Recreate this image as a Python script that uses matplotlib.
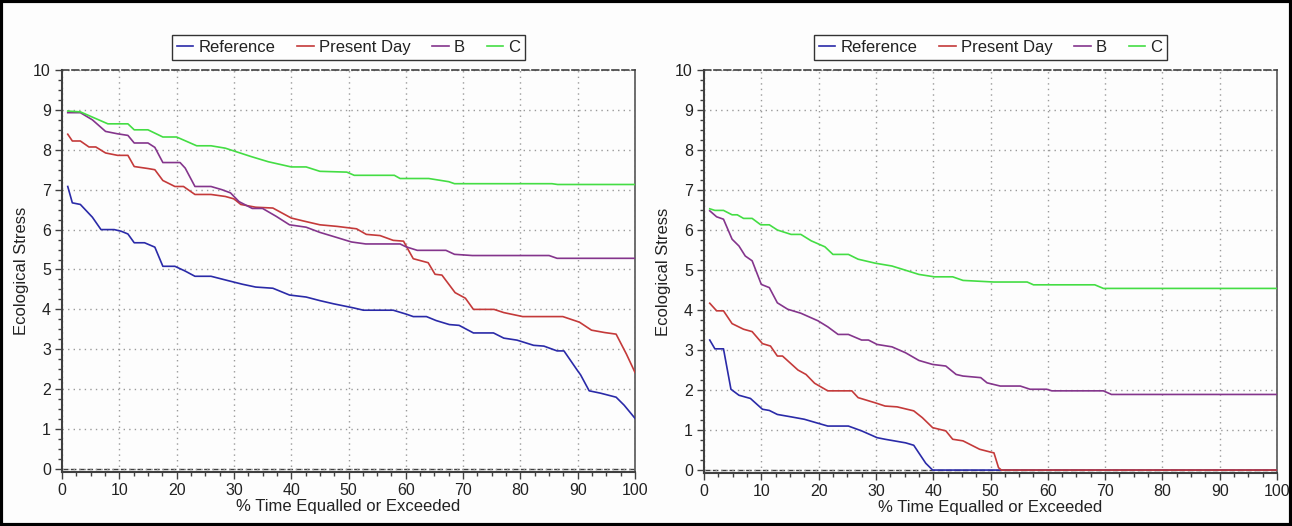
import matplotlib
matplotlib.use("Agg")
import matplotlib.pyplot as plt
from matplotlib.ticker import MultipleLocator
from matplotlib.patches import Rectangle

plt.rcParams['font.family'] = ['Liberation Sans', 'DejaVu Sans']

# ---------------- data ----------------
series_names = ["Reference", "Present Day", "B", "C"]
series_colors = ["#2a2aa8", "#c43a3a", "#84358c", "#44dd44"]

# Left panel
L_ref_x = [1, 1.8, 3.2, 5.3, 6.8, 9.1, 10.3, 11.5, 12.6, 14.4, 16.2, 17.6, 19.7, 21.5, 23.2, 26, 29, 31.5, 33.8,
           36.8, 39.7, 42.6, 45, 47.4, 50.8, 52.6, 57.8, 60.1, 61.3, 63.6, 65.3, 67.6, 69.3, 71.8, 75.3, 77.1,
           79.4, 82.3, 84.1, 86.4, 87.6, 89.9, 90.5, 92, 94, 96.7, 98.1, 100]
L_ref_y = [7.08, 6.67, 6.63, 6.31, 6.0, 6.0, 5.96, 5.89, 5.67, 5.67, 5.56, 5.08, 5.08, 4.96, 4.83, 4.83, 4.72, 4.63,
           4.56, 4.53, 4.36, 4.31, 4.22, 4.14, 4.04, 3.98, 3.98, 3.88, 3.82, 3.82, 3.72, 3.62, 3.6, 3.41, 3.41,
           3.28, 3.23, 3.1, 3.08, 2.96, 2.96, 2.48, 2.36, 1.96, 1.9, 1.8, 1.6, 1.27]

L_pd_x = [1, 1.8, 3.2, 4.7, 5.9, 7.6, 9.7, 11.5, 12.6, 15, 16.2, 17.6, 19.7, 21.2, 23.2, 26, 28.5, 30, 31.2, 33.8,
          36.8, 40, 42, 45, 48, 51.4, 53.1, 55.5, 57.8, 59.6, 60.4, 61.3, 63.9, 65.1, 66.3, 68.6, 70.4, 71.8,
          75.4, 77.1, 80.4, 87.4, 90.3, 92.4, 94.7, 96.7, 98.5, 100]
L_pd_y = [8.39, 8.22, 8.22, 8.07, 8.07, 7.92, 7.86, 7.86, 7.58, 7.53, 7.5, 7.23, 7.08, 7.08, 6.88, 6.88, 6.83, 6.77,
          6.63, 6.56, 6.54, 6.29, 6.22, 6.12, 6.08, 6.02, 5.88, 5.85, 5.73, 5.71, 5.5, 5.27, 5.17, 4.88, 4.86,
          4.42, 4.28, 4.0, 4.0, 3.92, 3.82, 3.82, 3.68, 3.48, 3.42, 3.38, 2.88, 2.42]

L_b_x = [1, 3.2, 5.3, 7.6, 9.7, 11.5, 12.6, 15, 16.2, 17.6, 20.6, 21.5, 23.2, 26, 27.9, 29.4, 30.9, 33.2, 35, 37.4,
         39.7, 42.6, 45, 48, 50.5, 53, 59, 60, 62, 67, 68.5, 71.6, 85, 86.4, 100]
L_b_y = [8.93, 8.93, 8.75, 8.46, 8.4, 8.36, 8.17, 8.17, 8.06, 7.68, 7.68, 7.54, 7.08, 7.08, 7.0, 6.92, 6.7, 6.53,
         6.53, 6.33, 6.12, 6.06, 5.93, 5.8, 5.69, 5.64, 5.64, 5.57, 5.48, 5.48, 5.38, 5.35, 5.35, 5.28, 5.28]

L_c_x = [1, 3.2, 8, 11.5, 12.6, 15, 17.6, 20, 23.5, 26, 28.5, 33, 36, 40, 42.6, 45, 49.7, 51, 58, 59, 64, 67.5,
         68.5, 85.5, 86.5, 100]
L_c_y = [8.97, 8.95, 8.65, 8.65, 8.5, 8.5, 8.32, 8.32, 8.1, 8.1, 8.04, 7.83, 7.7, 7.57, 7.57, 7.46, 7.44, 7.36,
         7.36, 7.28, 7.28, 7.2, 7.15, 7.15, 7.13, 7.13]

# Right panel
R_ref_x = [1, 1.9, 3.4, 4.7, 6.1, 8.1, 10.2, 11.4, 12.8, 15.2, 17.5, 19.9, 21.6, 25.2, 27.5, 30.2, 31.6, 35.2,
           36.6, 38.7, 39.9, 45, 60, 80, 100]
R_ref_y = [3.25, 3.03, 3.03, 2.02, 1.87, 1.79, 1.52, 1.49, 1.39, 1.33, 1.27, 1.17, 1.1, 1.1, 0.98, 0.81, 0.77, 0.68,
           0.62, 0.17, 0.0, 0.0, 0.0, 0.0, 0.0]

R_pd_x = [1, 2.2, 3.4, 4.9, 6.9, 8.4, 10.2, 11.6, 12.8, 13.7, 16.4, 17.8, 19.3, 21.6, 25.8, 26.9, 29.9, 31.6, 33.7,
          36.6, 38.1, 39.9, 42.2, 43.4, 45.2, 48.1, 50, 50.6, 51.4, 51.9, 60, 80, 100]
R_pd_y = [4.17, 3.98, 3.98, 3.66, 3.52, 3.46, 3.16, 3.1, 2.85, 2.85, 2.5, 2.39, 2.17, 1.98, 1.98, 1.81, 1.68, 1.6,
          1.58, 1.48, 1.31, 1.06, 0.98, 0.77, 0.73, 0.52, 0.45, 0.43, 0.06, 0.0, 0.0, 0.0, 0.0]

R_b_x = [1, 2.2, 3.4, 4.9, 6.1, 7.2, 8.4, 10, 11.4, 12.8, 14.6, 16.9, 19.9, 21.6, 23.4, 25.2, 27.5, 28.7, 30.2,
         32.8, 35.2, 37.5, 39.9, 42.2, 44, 45.2, 48.3, 49.4, 51.7, 55.2, 56.9, 59.8, 60.7, 69.7, 71.1, 100]
R_b_y = [6.48, 6.33, 6.27, 5.77, 5.6, 5.35, 5.23, 4.64, 4.56, 4.18, 4.02, 3.92, 3.73, 3.58, 3.39, 3.39, 3.25, 3.25,
         3.14, 3.08, 2.93, 2.74, 2.64, 2.6, 2.39, 2.35, 2.31, 2.18, 2.1, 2.1, 2.02, 2.02, 1.98, 1.98, 1.89, 1.89]

R_c_x = [1, 1.9, 3.4, 4.9, 5.8, 6.9, 8.4, 9.9, 11.4, 12.8, 15.2, 16.9, 18.7, 21.1, 22.5, 25.2, 26.9, 29.9, 32.8,
         34.6, 37.5, 40.2, 43.4, 45.2, 50.6, 56.4, 57.5, 68.2, 69.7, 100]
R_c_y = [6.53, 6.49, 6.49, 6.38, 6.38, 6.29, 6.29, 6.13, 6.13, 6.0, 5.89, 5.89, 5.73, 5.58, 5.39, 5.39, 5.27, 5.17,
         5.1, 5.02, 4.89, 4.83, 4.83, 4.74, 4.7, 4.7, 4.63, 4.63, 4.54, 4.54]

x_label = "% Time Equalled or Exceeded"
y_label = "Ecological Stress"
x_ticks = [0, 10, 20, 30, 40, 50, 60, 70, 80, 90, 100]
y_ticks = [0, 1, 2, 3, 4, 5, 6, 7, 8, 9, 10]

panels = [
    [(L_ref_x, L_ref_y), (L_pd_x, L_pd_y), (L_b_x, L_b_y), (L_c_x, L_c_y)],
    [(R_ref_x, R_ref_y), (R_pd_x, R_pd_y), (R_b_x, R_b_y), (R_c_x, R_c_y)],
]

# ---------------- figure ----------------
bg = "#fdfdfd"
fig = plt.figure(figsize=(12.92, 5.26), dpi=100, facecolor=bg)
axes_rects = [[0.048, 0.103, 0.4435, 0.764], [0.5449, 0.101, 0.4435, 0.766]]
text_col = "#222222"

for rect, data in zip(axes_rects, panels):
    ax = fig.add_axes(rect, facecolor=bg)
    ax.set_xlim(0, 100)
    ax.set_ylim(-0.07, 10)
    ax.axhline(0, color="#404040", lw=1.0, ls=(0, (4, 2)), zorder=1)
    for (xs, ys), name, col in zip(data, series_names, series_colors):
        ax.plot(xs, ys, color=col, lw=1.2, label=name, zorder=3)
    ax.set_xticks(x_ticks)
    ax.set_yticks(y_ticks)
    ax.xaxis.set_minor_locator(MultipleLocator(2.5))
    ax.yaxis.set_minor_locator(MultipleLocator(0.25))
    ax.tick_params(which="major", direction="out", length=5, width=1, color="#404040",
                   labelsize=11.5, labelcolor=text_col, pad=3)
    ax.tick_params(which="minor", direction="out", length=3, width=1, color="#404040")
    ax.grid(True, which="major", color="#9a9a9a", ls=(0, (1, 3)), lw=1)
    ax.spines["left"].set_color("#404040")
    ax.spines["left"].set_linewidth(1.5)
    ax.spines["bottom"].set_color("#404040")
    ax.spines["bottom"].set_linewidth(1.5)
    ax.spines["right"].set_color("#555555")
    ax.spines["right"].set_linewidth(1.2)
    ax.spines["top"].set_color("#404040")
    ax.spines["top"].set_linestyle((0, (4, 2)))
    ax.spines["top"].set_linewidth(1.2)
    ax.set_xlabel(x_label, fontsize=12, color=text_col, labelpad=1)
    ax.set_ylabel(y_label, fontsize=12, color=text_col, labelpad=3)
    leg = ax.legend(loc="lower center", bbox_to_anchor=(0.5, 1.025), ncol=4, fontsize=12,
                    frameon=True, fancybox=False, edgecolor="black", facecolor="white",
                    handlelength=1.0, handletextpad=0.3, columnspacing=1.3, borderpad=0.3,
                    borderaxespad=0.0)
    leg.get_frame().set_linewidth(1.0)
    for t in leg.get_texts():
        t.set_color(text_col)

fig.patches.append(Rectangle((0.001, 0.002), 0.998, 0.996, transform=fig.transFigure,
                             fill=False, edgecolor="black", lw=3))

fig.savefig("out.png", dpi=100, facecolor=bg)
